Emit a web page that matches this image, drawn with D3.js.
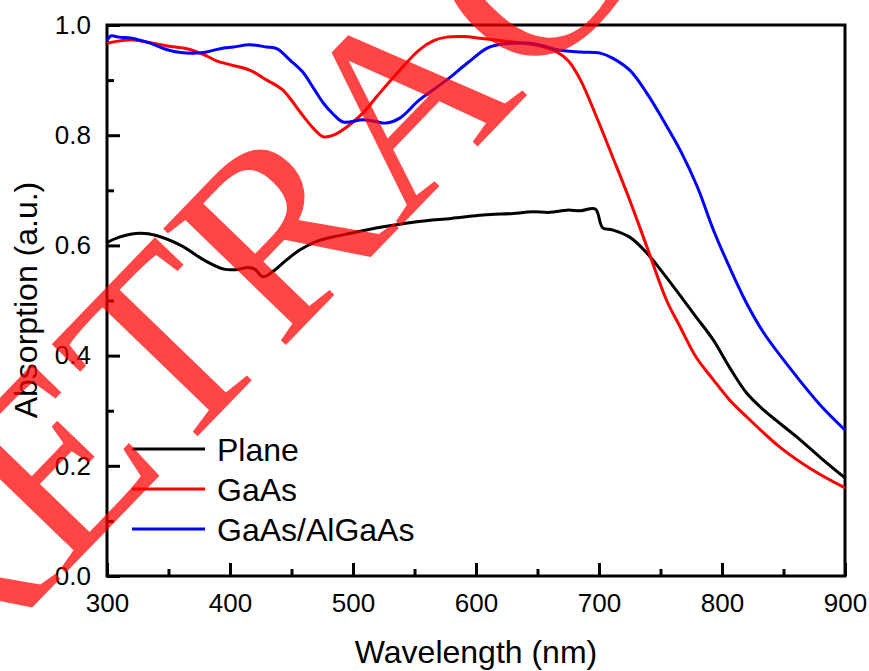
<!DOCTYPE html>
<html>
<head>
<meta charset="utf-8">
<script src="https://cdn.jsdelivr.net/npm/d3@7"></script>
<style>
    body { margin: 0; background: #fff; }
    svg { display: block; }
</style>
</head>
<body>
<svg id="chart"></svg>
<script>
// DATA
var seriesNames = ["Plane", "GaAs", "GaAs/AlGaAs"]
var seriesColors = ["#000000", "#ff0000", "#0000ff"]

var planeWl = [300, 310, 327, 340, 360, 380, 395, 405, 415, 420, 427, 435, 445, 457, 470, 481, 498, 520, 552, 580, 606, 630, 646, 660, 674, 685, 697, 703, 711, 725, 739, 752, 768, 779, 793, 806, 820, 834, 861, 880, 900]
var planeAbs = [0.605, 0.615, 0.622, 0.618, 0.600, 0.572, 0.557, 0.556, 0.560, 0.557, 0.543, 0.553, 0.572, 0.592, 0.607, 0.614, 0.622, 0.632, 0.643, 0.649, 0.655, 0.658, 0.661, 0.660, 0.664, 0.663, 0.666, 0.632, 0.628, 0.615, 0.586, 0.550, 0.503, 0.470, 0.428, 0.379, 0.332, 0.301, 0.252, 0.215, 0.178]

var gaasWl = [300, 321, 335, 349, 365, 380, 389, 400, 416, 430, 443, 457, 468, 476, 484, 495, 508, 520, 536, 554, 566, 576, 590, 603, 630, 650, 665, 675, 685, 698, 711, 725, 739, 755, 766, 779, 793, 806, 820, 847, 874, 900]
var gaasAbs = [0.967, 0.973, 0.968, 0.962, 0.957, 0.945, 0.935, 0.928, 0.918, 0.900, 0.882, 0.842, 0.812, 0.797, 0.800, 0.815, 0.840, 0.872, 0.913, 0.955, 0.972, 0.978, 0.979, 0.976, 0.969, 0.963, 0.952, 0.935, 0.900, 0.833, 0.761, 0.682, 0.597, 0.500, 0.452, 0.397, 0.356, 0.320, 0.289, 0.234, 0.192, 0.160]

var alWl = [300, 303, 310, 320, 335, 349, 360, 373, 381, 392, 403, 416, 430, 438, 449, 459, 468, 476, 484, 492, 508, 518, 527, 538, 554, 576, 593, 609, 620, 630, 644, 655, 666, 685, 701, 711, 725, 739, 752, 766, 780, 793, 806, 820, 834, 861, 880, 900]
var alAbs = [0.972, 0.980, 0.978, 0.976, 0.967, 0.955, 0.950, 0.949, 0.951, 0.957, 0.960, 0.964, 0.960, 0.957, 0.936, 0.915, 0.885, 0.858, 0.838, 0.824, 0.828, 0.825, 0.822, 0.831, 0.864, 0.900, 0.931, 0.958, 0.965, 0.967, 0.967, 0.962, 0.955, 0.951, 0.949, 0.940, 0.918, 0.876, 0.828, 0.773, 0.706, 0.628, 0.561, 0.495, 0.441, 0.361, 0.310, 0.265]

var xTicks = [300, 400, 500, 600, 700, 800, 900]
var yTicks = [0.0, 0.2, 0.4, 0.6, 0.8, 1.0]
var watermarkText = "RETRACTED"


// MAIN
var width = 869, height = 671
var margin = {left: 107, top: 25, right: 24, bottom: 95}

var svg = d3.select("#chart")
    .attr("width", width)
    .attr("height", height)

var x = d3.scaleLinear().domain([300, 900]).range([margin.left, width - margin.right])
var y = d3.scaleLinear().domain([0, 1]).range([height - margin.bottom, margin.top])

var font = "'Liberation Sans', Arial, sans-serif"

// axes, ticks pointing inward
var xAxis = svg.append("g")
    .attr("transform", "translate(0," + y(0) + ")")
    .call(d3.axisBottom(x).tickValues(xTicks).tickSizeInner(-13).tickSizeOuter(0).tickPadding(18))
var xMinor = svg.append("g")
    .attr("transform", "translate(0," + y(0) + ")")
    .call(d3.axisBottom(x).tickValues([350, 450, 550, 650, 750, 850]).tickSize(-7).tickFormat(""))

var yAxis = svg.append("g")
    .attr("transform", "translate(" + x(300) + ",0)")
    .call(d3.axisLeft(y).tickValues(yTicks).tickSizeInner(-13).tickSizeOuter(0).tickPadding(16).tickFormat(d3.format(".1f")))
var yMinor = svg.append("g")
    .attr("transform", "translate(" + x(300) + ",0)")
    .call(d3.axisLeft(y).tickValues([0.1, 0.3, 0.5, 0.7, 0.9]).tickSize(-7).tickFormat(""))

svg.selectAll(".domain").remove()
svg.selectAll(".tick line").attr("stroke", "#000").attr("stroke-width", 3)
svg.selectAll(".tick text")
    .attr("font-family", font)
    .attr("font-size", "26px")
    .attr("fill", "#000")
xAxis.selectAll(".tick text").attr("dy", "0.71em")

// frame
svg.append("rect")
    .attr("x", x(300))
    .attr("y", y(1))
    .attr("width", x(900) - x(300))
    .attr("height", y(0) - y(1))
    .attr("fill", "none")
    .attr("stroke", "#000")
    .attr("stroke-width", 3)

// axis titles
svg.append("text")
    .attr("x", 476)
    .attr("y", 663)
    .attr("text-anchor", "middle")
    .attr("font-family", font)
    .attr("font-size", "32px")
    .text("Wavelength (nm)")

svg.append("text")
    .attr("transform", "translate(37,300) rotate(-90)")
    .attr("text-anchor", "middle")
    .attr("font-family", font)
    .attr("font-size", "32px")
    .text("Absorption (a.u.)")

// curves
var series = [
    {wl: planeWl, abs: planeAbs},
    {wl: gaasWl, abs: gaasAbs},
    {wl: alWl, abs: alAbs}
]

var line = d3.line()
    .x(function (d) { return x(d[0]) })
    .y(function (d) { return y(d[1]) })
    .curve(d3.curveCatmullRom.alpha(0.5))

svg.append("g")
    .selectAll("path")
    .data(series)
    .enter().append("path")
    .attr("fill", "none")
    .attr("stroke", function (d, i) { return seriesColors[i] })
    .attr("stroke-width", 3)
    .attr("stroke-linejoin", "round")
    .attr("d", function (d) {
        return line(d.wl.map(function (w, j) { return [w, d.abs[j]] }))
    })

// legend
var legend = svg.append("g")
    .selectAll("g")
    .data(seriesNames)
    .enter().append("g")
    .attr("transform", function (d, i) { return "translate(132," + (449 + i * 40) + ")" })

legend.append("line")
    .attr("x1", 0)
    .attr("x2", 73)
    .attr("stroke", function (d, i) { return seriesColors[i] })
    .attr("stroke-width", 3)

legend.append("text")
    .attr("x", 85)
    .attr("dy", "0.36em")
    .attr("font-family", font)
    .attr("font-size", "32px")
    .text(function (d) { return d })

// watermark on top
svg.append("text")
    .attr("transform", "translate(-59,702) rotate(-46)")
    .attr("font-family", "'Liberation Serif', 'Times New Roman', serif")
    .attr("font-size", "258px")
    .attr("fill", "#ff0000")
    .attr("fill-opacity", 0.73)
    .text(watermarkText)
</script>
</body>
</html>
